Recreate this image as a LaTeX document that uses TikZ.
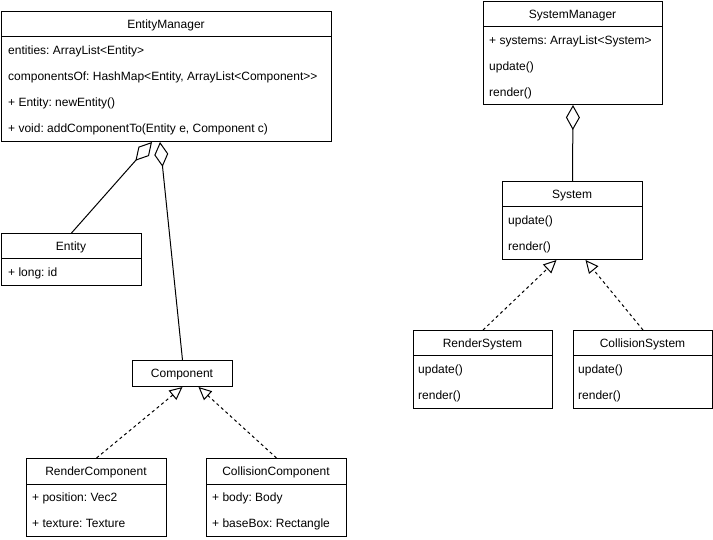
\documentclass[tikz,border=0pt]{standalone}
\usepackage{fontspec}
\setmainfont{Liberation Sans}[Ligatures=NoCommon]
\usetikzlibrary{arrows.meta,calc}
\frenchspacing
\tikzset{
  cls/.style={draw=black, line width=1pt, inner sep=0pt, anchor=north west, fill=white},
  ttl/.style={inner sep=0pt, text height=8.6pt, text depth=0pt, font=\fontsize{12}{14}\selectfont\frenchspacing},
  lbl/.style={inner sep=0pt, anchor=west, text height=8.6pt, text depth=0pt, font=\fontsize{12}{14}\selectfont\frenchspacing},
  div/.style={draw=black, line width=1pt},
  agg/.style={draw=black, line width=1pt, -{Diamond[open, length=25pt, width=14pt, line width=1pt]}},
  real/.style={draw=black, line width=1pt, dash pattern=on 3pt off 3pt, -{Triangle[open, length=13pt, width=12pt, line width=1pt]}}
}
\begin{document}
\begin{tikzpicture}[x=1pt,y=-1pt]
\useasboundingbox (0,0) rectangle (713,540);
% EntityManager
\node[cls, minimum width=330pt, minimum height=130pt] (em) at (1,11) {};
\draw[div] ([yshift=-26pt]em.north west) -- ([yshift=-26pt]em.north east);
\node[ttl] (emT) at (166,24.5) {EntityManager};
\node[lbl] (em1) at (8,50) {entities: ArrayList<Entity>};
\node[lbl] (em2) at (8,76) {componentsOf: HashMap<Entity, ArrayList<Component>{}>};
\node[lbl] (em3) at (8,102) {+ Entity: newEntity()};
\node[lbl] (em4) at (8,128) {+ void: addComponentTo(Entity e, Component c)};
% Entity
\node[cls, minimum width=140pt, minimum height=52pt] (ent) at (1,233) {};
\draw[div] ([yshift=-26pt]ent.north west) -- ([yshift=-26pt]ent.north east);
\node[ttl] (entT) at (71,246.5) {Entity};
\node[lbl] (ent1) at (8,272) {+ long: id};
% Component
\node[cls, minimum width=100pt, minimum height=26pt] (comp) at (132,360) {};
\node[ttl] (compT) at (182,373) {Component};
% RenderComponent
\node[cls, minimum width=140pt, minimum height=78pt] (rc) at (26,458) {};
\draw[div] ([yshift=-26pt]rc.north west) -- ([yshift=-26pt]rc.north east);
\node[ttl] (rcT) at (96,471) {RenderComponent};
\node[lbl] (rc1) at (32,497) {+ position: Vec2};
\node[lbl] (rc2) at (32,523) {+ texture: Texture};
% CollisionComponent
\node[cls, minimum width=140pt, minimum height=78pt] (cc) at (206,458) {};
\draw[div] ([yshift=-26pt]cc.north west) -- ([yshift=-26pt]cc.north east);
\node[ttl] (ccT) at (276,471) {CollisionComponent};
\node[lbl] (cc1) at (212,497) {+ body: Body};
\node[lbl] (cc2) at (212,523) {+ baseBox: Rectangle};
% SystemManager
\node[cls, minimum width=179pt, minimum height=103pt] (sm) at (483,1) {};
\draw[div] ([yshift=-26pt]sm.north west) -- ([yshift=-26pt]sm.north east);
\node[ttl] (smT) at (572.5,14) {SystemManager};
\node[lbl] (sm1) at (489,40) {+ systems: ArrayList<System>};
\node[lbl] (sm2) at (489,66) {update()};
\node[lbl] (sm3) at (489,92) {render()};
% System
\node[cls, minimum width=140pt, minimum height=78pt] (sys) at (502,181) {};
\draw[div] ([yshift=-26pt]sys.north west) -- ([yshift=-26pt]sys.north east);
\node[ttl] (sysT) at (572,194) {System};
\node[lbl] (sys1) at (508,220) {update()};
\node[lbl] (sys2) at (508,246) {render()};
% RenderSystem
\node[cls, minimum width=139pt, minimum height=78pt] (rs) at (413,330) {};
\draw[div] ([yshift=-26pt]rs.north west) -- ([yshift=-26pt]rs.north east);
\node[ttl] (rsT) at (482.5,343) {RenderSystem};
\node[lbl] (rs1) at (418,369) {update()};
\node[lbl] (rs2) at (418,395) {render()};
% CollisionSystem
\node[cls, minimum width=139pt, minimum height=78pt] (cs) at (573,330) {};
\draw[div] ([yshift=-26pt]cs.north west) -- ([yshift=-26pt]cs.north east);
\node[ttl] (csT) at (642.5,343) {CollisionSystem};
\node[lbl] (cs1) at (578,369) {update()};
\node[lbl] (cs2) at (578,395) {render()};
% connectors
\draw[agg] (ent.north) -- ($(em.south west)+(151,0)$);
\draw[agg] (comp.north) -- ($(em.south west)+(159,0)$);
\draw[agg] (sys.north) -- (sm.south);
\draw[real] (rc.north) -- (comp.south);
\draw[real] (cc.north) -- ($(comp.south)+(16,0)$);
\draw[real] (rs.north) -- ($(sys.south)+(-16,0)$);
\draw[real] (cs.north) -- ($(sys.south)+(13,0)$);
\end{tikzpicture}
\end{document}
